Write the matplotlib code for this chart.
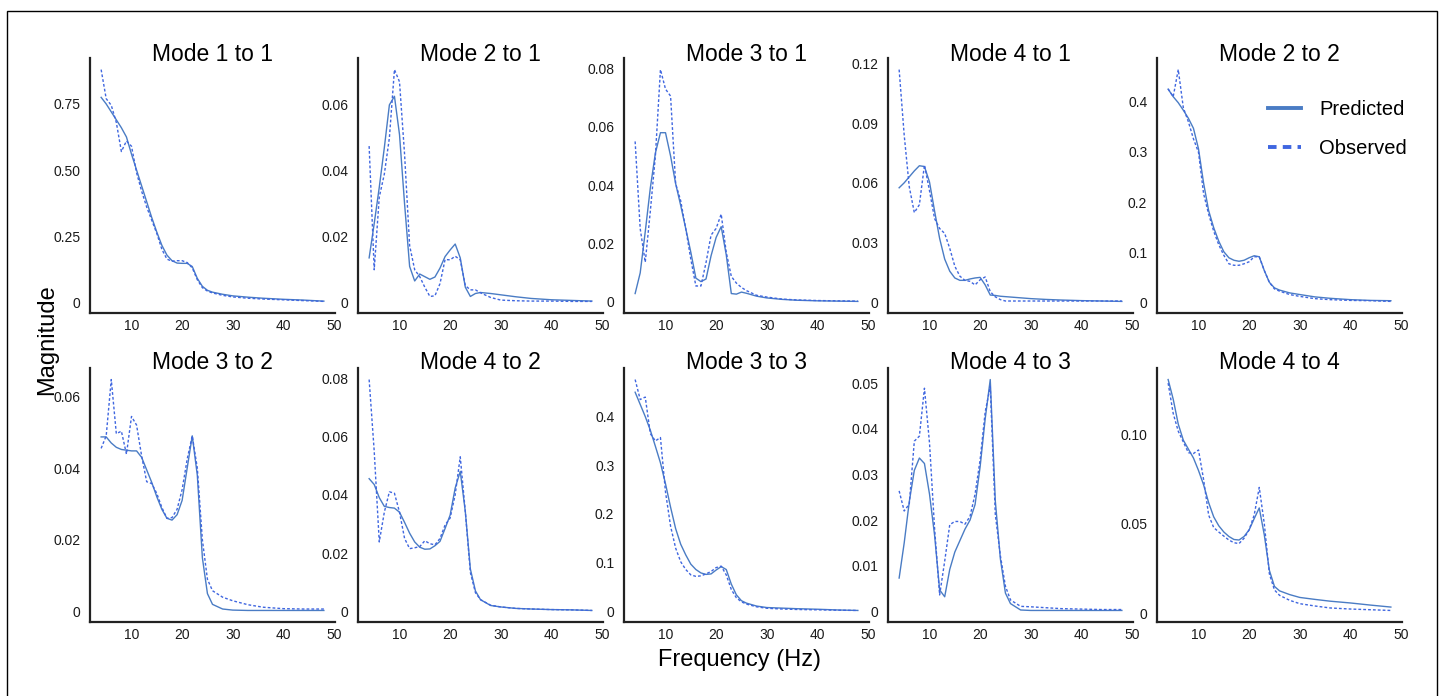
import matplotlib
matplotlib.use("Agg")
import matplotlib.pyplot as plt
from matplotlib.lines import Line2D
from matplotlib.patches import Rectangle

plt.rcParams["font.family"] = ["Liberation Sans", "DejaVu Sans"]

freqs = [4, 5, 6, 7, 8, 9, 10, 11, 12, 13, 14, 15, 16, 17, 18, 19, 20,
         21, 22, 23, 24, 25, 26, 28, 30, 33, 36, 40, 44, 48]

titles = ["Mode 1 to 1", "Mode 2 to 1", "Mode 3 to 1", "Mode 4 to 1", "Mode 2 to 2",
          "Mode 3 to 2", "Mode 4 to 2", "Mode 3 to 3", "Mode 4 to 3", "Mode 4 to 4"]

pred_11 = [0.775, 0.75, 0.72, 0.69, 0.66, 0.625, 0.56, 0.5, 0.44, 0.38, 0.32, 0.265, 0.215, 0.178,
           0.157, 0.148, 0.147, 0.147, 0.135, 0.09, 0.06, 0.045, 0.038, 0.03, 0.024, 0.019, 0.015,
           0.011, 0.008, 0.004]
obs_11 = [0.88, 0.77, 0.745, 0.68, 0.57, 0.61, 0.59, 0.49, 0.42, 0.36, 0.31, 0.26, 0.2, 0.163,
          0.155, 0.157, 0.157, 0.15, 0.13, 0.085, 0.055, 0.042, 0.035, 0.026, 0.02, 0.015, 0.012,
          0.009, 0.006, 0.003]

pred_21 = [0.0136, 0.024, 0.035, 0.047, 0.060, 0.0626, 0.051, 0.030, 0.011, 0.0066, 0.0087, 0.0079,
           0.0071, 0.0078, 0.0105, 0.014, 0.016, 0.0178, 0.0136, 0.0047, 0.0019, 0.0028, 0.0031,
           0.0028, 0.0024, 0.0018, 0.0013, 0.0009, 0.0007, 0.0005]
obs_21 = [0.0475, 0.010, 0.032, 0.039, 0.050, 0.0707, 0.067, 0.045, 0.0173, 0.010, 0.0079, 0.0047,
          0.0019, 0.0021, 0.0058, 0.0131, 0.013, 0.0141, 0.013, 0.0052, 0.0039, 0.0039, 0.003,
          0.0016, 0.0008, 0.0006, 0.0005, 0.0005, 0.0004, 0.0004]

pred_31 = [0.0027, 0.0098, 0.024, 0.039, 0.051, 0.058, 0.058, 0.050, 0.0405, 0.033, 0.025, 0.0169,
           0.008, 0.0068, 0.0077, 0.0157, 0.022, 0.0257, 0.016, 0.0027, 0.0025, 0.0032, 0.0028,
           0.0018, 0.0012, 0.0007, 0.0004, 0.0002, 0.0001, 0.0]
obs_31 = [0.055, 0.025, 0.0135, 0.031, 0.05, 0.0797, 0.073, 0.0706, 0.0405, 0.0346, 0.025, 0.0145,
          0.0053, 0.0053, 0.0133, 0.0228, 0.0251, 0.030, 0.0169, 0.0086, 0.0063, 0.0048, 0.0037,
          0.0021, 0.0015, 0.0008, 0.0005, 0.0003, 0.0002, 0.0001]

pred_41 = [0.0575, 0.060, 0.063, 0.066, 0.0686, 0.0682, 0.0604, 0.0458, 0.032, 0.0216, 0.0155,
           0.0121, 0.0109, 0.0109, 0.0116, 0.0121, 0.0124, 0.0086, 0.0035, 0.0033, 0.0029, 0.0027,
           0.0025, 0.0021, 0.0017, 0.0013, 0.001, 0.0007, 0.0005, 0.0003]
obs_41 = [0.117, 0.084, 0.058, 0.045, 0.049, 0.069, 0.056, 0.042, 0.037, 0.0345, 0.027, 0.018,
          0.013, 0.0109, 0.0104, 0.0086, 0.0112, 0.0126, 0.0052, 0.0026, 0.0012, 0.0005, 0.0005,
          0.0005, 0.0005, 0.0005, 0.0005, 0.0005, 0.0005, 0.0005]

pred_22 = [0.425, 0.41, 0.398, 0.383, 0.367, 0.347, 0.306, 0.238, 0.183, 0.149, 0.122, 0.101, 0.089,
           0.084, 0.082, 0.084, 0.089, 0.093, 0.091, 0.0635, 0.040, 0.029, 0.0246, 0.019, 0.0157,
           0.011, 0.0082, 0.0055, 0.004, 0.0034]
obs_22 = [0.4255, 0.41, 0.464, 0.388, 0.36, 0.326, 0.299, 0.217, 0.176, 0.142, 0.115, 0.094, 0.077,
          0.074, 0.074, 0.077, 0.081, 0.091, 0.091, 0.0635, 0.040, 0.027, 0.0225, 0.0157, 0.012,
          0.0075, 0.0055, 0.004, 0.0034, 0.002]

pred_32 = [0.0487, 0.0487, 0.047, 0.0458, 0.0452, 0.045, 0.0448, 0.0448, 0.043, 0.0395, 0.036, 0.032,
           0.0285, 0.026, 0.0255, 0.027, 0.031, 0.04, 0.049, 0.038, 0.015, 0.005, 0.002, 0.0007,
           0.0004, 0.0003, 0.0003, 0.0003, 0.0003, 0.0003]
obs_32 = [0.0455, 0.049, 0.0647, 0.0496, 0.0503, 0.0439, 0.0544, 0.052, 0.0434, 0.0362, 0.0357,
          0.0329, 0.029, 0.026, 0.0262, 0.0285, 0.034, 0.0425, 0.049, 0.04, 0.02, 0.009, 0.0058,
          0.004, 0.003, 0.0019, 0.0012, 0.0008, 0.0007, 0.0007]

pred_42 = [0.0455, 0.0435, 0.039, 0.036, 0.0356, 0.0354, 0.034, 0.0305, 0.0268, 0.0238, 0.022,
           0.0213, 0.0214, 0.0225, 0.024, 0.0284, 0.033, 0.0423, 0.048, 0.0342, 0.0145, 0.007,
           0.004, 0.002, 0.0015, 0.001, 0.0008, 0.0006, 0.0005, 0.0003]
obs_42 = [0.0795, 0.055, 0.0238, 0.034, 0.041, 0.0405, 0.034, 0.025, 0.0215, 0.0218, 0.0222, 0.0242,
          0.0232, 0.0228, 0.025, 0.0296, 0.032, 0.040, 0.053, 0.0342, 0.0133, 0.0064, 0.004,
          0.0021, 0.0015, 0.001, 0.0008, 0.0006, 0.0005, 0.0003]

pred_33 = [0.45, 0.425, 0.40, 0.372, 0.339, 0.305, 0.262, 0.214, 0.17, 0.138, 0.116, 0.097, 0.086,
           0.079, 0.076, 0.077, 0.085, 0.092, 0.086, 0.056, 0.034, 0.022, 0.017, 0.011, 0.008,
           0.0068, 0.0056, 0.0045, 0.003, 0.002]
obs_33 = [0.476, 0.435, 0.44, 0.365, 0.35, 0.357, 0.245, 0.175, 0.13, 0.102, 0.086, 0.075, 0.072,
          0.073, 0.077, 0.082, 0.09, 0.093, 0.075, 0.045, 0.028, 0.0197, 0.015, 0.0095, 0.0065,
          0.005, 0.004, 0.0033, 0.0025, 0.002]

pred_43 = [0.0073, 0.015, 0.024, 0.0309, 0.0336, 0.0324, 0.0257, 0.0167, 0.0047, 0.0032, 0.0092,
           0.013, 0.0155, 0.018, 0.020, 0.0234, 0.0317, 0.0422, 0.0508, 0.0242, 0.0115, 0.004,
           0.0017, 0.0003, 0.0002, 0.0002, 0.0002, 0.0002, 0.0002, 0.0002]
obs_43 = [0.0264, 0.022, 0.0235, 0.0373, 0.0384, 0.0489, 0.0369, 0.0182, 0.0036, 0.011, 0.019,
          0.0197, 0.0197, 0.0191, 0.0208, 0.0257, 0.0332, 0.0437, 0.0493, 0.0212, 0.0122, 0.0055,
          0.0025, 0.0011, 0.001, 0.0008, 0.0006, 0.0005, 0.0004, 0.0004]

pred_44 = [0.131, 0.12, 0.106, 0.097, 0.092, 0.087, 0.080, 0.072, 0.062, 0.054, 0.049, 0.0455,
           0.043, 0.0413, 0.041, 0.043, 0.0467, 0.053, 0.059, 0.0438, 0.024, 0.015, 0.0125, 0.0104,
           0.0088, 0.0077, 0.0067, 0.0057, 0.0045, 0.0034]
obs_44 = [0.129, 0.112, 0.102, 0.096, 0.090, 0.0895, 0.0915, 0.075, 0.055, 0.048, 0.0455, 0.0432,
          0.041, 0.0395, 0.039, 0.042, 0.0467, 0.055, 0.0705, 0.050, 0.022, 0.013, 0.010, 0.0072,
          0.0053, 0.004, 0.0029, 0.0023, 0.0019, 0.0015]

predicted = [pred_11, pred_21, pred_31, pred_41, pred_22,
             pred_32, pred_42, pred_33, pred_43, pred_44]
observed = [obs_11, obs_21, obs_31, obs_41, obs_22,
            obs_32, obs_42, obs_33, obs_43, obs_44]

ytick_labels = [
    ["0", "0.25", "0.50", "0.75"],
    ["0", "0.02", "0.04", "0.06"],
    ["0", "0.02", "0.04", "0.06", "0.08"],
    ["0", "0.03", "0.06", "0.09", "0.12"],
    ["0", "0.1", "0.2", "0.3", "0.4"],
    ["0", "0.02", "0.04", "0.06"],
    ["0", "0.02", "0.04", "0.06", "0.08"],
    ["0", "0.1", "0.2", "0.3", "0.4"],
    ["0", "0.01", "0.02", "0.03", "0.04", "0.05"],
    ["0", "0.05", "0.10"],
]
xticks = [10, 20, 30, 40, 50]

PRED_COLOR = "#4a7cc4"
OBS_COLOR = "#3f66e0"

W, H = 1442, 696
fig = plt.figure(figsize=(W / 100, H / 100), dpi=100)

lefts = [90, 358, 624, 888, 1157]
row_tops = [58, 368]
row_bottoms = [313, 622]
title_drop = [3, 1]  # title baseline sits a few px below the axes top
width = 245

for i, title in enumerate(titles):
    row, col = divmod(i, 5)
    top, bottom = row_tops[row], row_bottoms[row]
    ax = fig.add_axes([lefts[col] / W, 1 - bottom / H, width / W, (bottom - top) / H])
    ax.plot(freqs, predicted[i], color=PRED_COLOR, lw=1.0)
    ax.plot(freqs, observed[i], color=OBS_COLOR, lw=1.0, ls=(0, (2, 1.5)))
    ax.set_xticks(xticks)
    ax.set_xticklabels([str(t) for t in xticks])
    ax.set_yticks([float(t) for t in ytick_labels[i]])
    ax.set_yticklabels(ytick_labels[i])
    ax.tick_params(length=0, labelsize=10, colors="#1a1a1a")
    ax.tick_params(axis="y", pad=7)
    ax.tick_params(axis="x", pad=4)
    for side in ["top", "right"]:
        ax.spines[side].set_visible(False)
    for side in ["left", "bottom"]:
        ax.spines[side].set_linewidth(1.6)
        ax.spines[side].set_color("#222222")
    # explicit y disables matplotlib's auto push-up of the title
    ax.set_title(title, fontsize=16.5, pad=0, y=1 - title_drop[row] / (bottom - top))

# legend sits in the "Mode 2 to 2" panel, placed in figure pixels
handles = [Line2D([], [], color=PRED_COLOR, lw=2.8),
           Line2D([], [], color=OBS_COLOR, lw=2.8, ls=(0, (2.2, 1.6)))]
fig.legend(handles, ["Predicted", "Observed"], frameon=False, fontsize=14.5,
           handlelength=1.65, handletextpad=0.9, labelspacing=1.0,
           borderpad=0, borderaxespad=0, loc="upper left",
           bbox_to_anchor=(1268 / W, 1 - 100 / H), bbox_transform=fig.transFigure)

fig.text(47 / W, 1 - 340 / H, "Magnitude", rotation=90, fontsize=17, ha="center", va="center")
fig.text(740 / W, 1 - 660 / H, "Frequency (Hz)", fontsize=17, ha="center", va="center")

fig.patches.append(Rectangle((7 / W, -0.01), 1430 / W, 0.01 + (H - 11) / H, transform=fig.transFigure,
                             fill=False, edgecolor="black", lw=1.0))

fig.savefig("out.png", dpi=100)
